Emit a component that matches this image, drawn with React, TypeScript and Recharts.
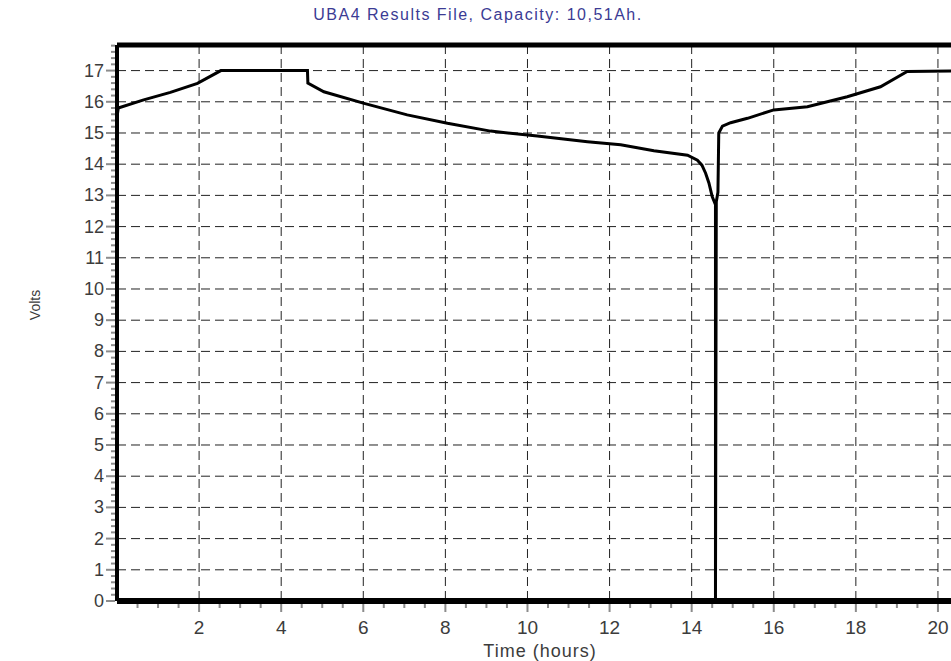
import React from 'react';
import {
  LineChart,
  Line,
  XAxis,
  YAxis,
  CartesianGrid,
  ReferenceLine,
} from 'recharts';

// battery voltage trace
const hours = [
  0, 0.03, 0.65, 1.3, 1.96, 2.53, 4.64, 4.65, 5.04, 6.02, 7.07, 8.05, 9.1, 10.24,
  11.46, 12.27, 13.08, 13.9, 14.14, 14.25, 14.34, 14.42, 14.5, 14.58, 14.58, 14.6, 14.64, 14.66,
  14.75, 14.95, 15.36, 16.0, 16.82, 17.79, 18.6, 19.25, 21,
];
const volts = [
  15.5, 15.8, 16.06, 16.3, 16.59, 17.0, 17.0, 16.6, 16.32, 15.95, 15.58, 15.31, 15.06, 14.9,
  14.72, 14.62, 14.43, 14.29, 14.13, 13.97, 13.71, 13.4, 12.96, 12.7, 0, 12.8, 13.1, 15.0,
  15.22, 15.33, 15.47, 15.74, 15.84, 16.16, 16.48, 16.97, 17.0,
];

const xMajor = [2, 4, 6, 8, 10, 12, 14, 16, 18, 20];
const yMajor = [0, 1, 2, 3, 4, 5, 6, 7, 8, 9, 10, 11, 12, 13, 14, 15, 16, 17];

const X_MAX = 21;
const Y_MAX = 17.82;

const xTicks: number[] = [];
for (let i = 1; i <= 41; i++) xTicks.push(i / 2);
const yTicks: number[] = [];
for (let i = 0; i <= 89; i++) yTicks.push(Math.round(i * 2) / 10);

const data = hours.map((h, i) => ({ h, v: volts[i] }));

const FONT = '"Liberation Sans", Arial, sans-serif';
const TICK_GREY = '#8c8c8c';
const LABEL = '#3c3c3c';

const XTick = (props: any) => {
  const { x, y, payload } = props;
  const major = xMajor.includes(payload.value);
  return (
    <g>
      <line x1={x} x2={x} y1={y + 3} y2={y + (major ? 11 : 7)} stroke={TICK_GREY} strokeWidth={2} />
      {major && (
        <text x={x} y={y + 33} textAnchor="middle" fontSize={19} fill={LABEL} fontFamily={FONT}>
          {payload.value}
        </text>
      )}
    </g>
  );
};

const YTick = (props: any) => {
  const { x, y, payload } = props;
  const major = yMajor.includes(payload.value);
  return (
    <g>
      <line x1={x - (major ? 11 : 6)} x2={x - 2} y1={y} y2={y} stroke={TICK_GREY} strokeWidth={2} />
      {major && (
        <text x={x - 13} y={y + 6} textAnchor="end" fontSize={18} fill={LABEL} fontFamily={FONT}>
          {payload.value}
        </text>
      )}
    </g>
  );
};

export default function App() {
  return (
    <div
      style={{
        position: 'absolute',
        left: 0,
        top: 0,
        width: 951,
        height: 661,
        overflow: 'hidden',
        background: '#fff',
        fontFamily: FONT,
      }}
    >
      <span
        style={{
          position: 'absolute',
          left: 478,
          top: 6,
          transform: 'translateX(-50%)',
          whiteSpace: 'nowrap',
          color: '#3b3b94',
          fontSize: 16,
          letterSpacing: 1.5,
        }}
      >
        UBA4 Results File, Capacity: 10,51Ah.
      </span>
      <div
        style={{
          position: 'absolute',
          left: 35,
          top: 305,
          transform: 'translate(-50%, -50%) rotate(-90deg)',
          color: LABEL,
          fontSize: 14,
          whiteSpace: 'nowrap',
        }}
      >
        Volts
      </div>
      <div
        style={{
          position: 'absolute',
          left: 540,
          top: 651,
          transform: 'translate(-50%, -50%)',
          color: LABEL,
          fontSize: 18,
          whiteSpace: 'nowrap',
          letterSpacing: 1,
        }}
      >
        Time (hours)
      </div>
      <div style={{ position: 'absolute', left: 0, top: 0 }}>
        <LineChart width={1000} height={661} data={data} margin={{ top: 45, right: 21, bottom: 0, left: 0 }}>
          <CartesianGrid
            stroke="#222"
            strokeDasharray="9 5"
            horizontalValues={yMajor}
            verticalValues={xMajor}
          />
          <XAxis
            dataKey="h"
            type="number"
            domain={[0, X_MAX]}
            ticks={xTicks}
            interval={0}
            height={60}
            tickSize={0}
            tickMargin={0}
            tickLine={false}
            tick={<XTick />}
            axisLine={{ stroke: '#000', strokeWidth: 6 }}
            allowDataOverflow
          />
          <YAxis
            type="number"
            domain={[0, Y_MAX]}
            ticks={yTicks}
            interval={0}
            width={117}
            tickSize={0}
            tickMargin={0}
            tickLine={false}
            tick={<YTick />}
            axisLine={{ stroke: '#000', strokeWidth: 4 }}
            allowDataOverflow
          />
          <ReferenceLine y={Y_MAX} stroke="#000" strokeWidth={5} />
          <Line
            type="linear"
            dataKey="v"
            stroke="#000"
            strokeWidth={3}
            dot={false}
            isAnimationActive={false}
          />
        </LineChart>
      </div>
    </div>
  );
}
